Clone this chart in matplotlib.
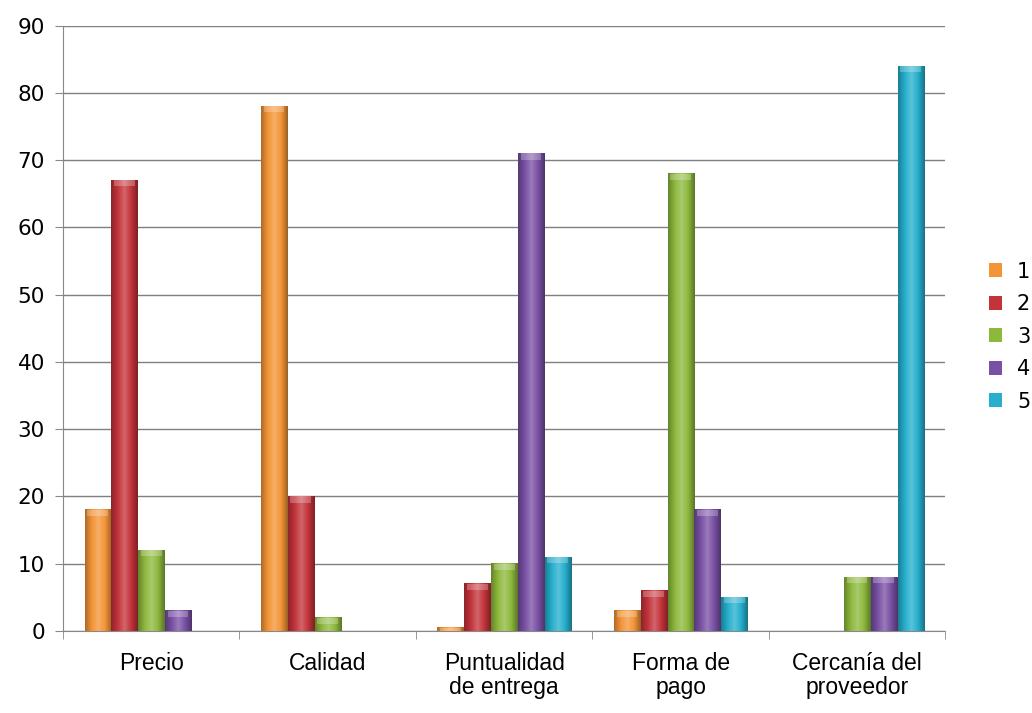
import matplotlib.pyplot as plt
import numpy as np
from matplotlib.colors import LinearSegmentedColormap

# categories and the five rating series
categories = ['Precio', 'Calidad', 'Puntualidad\nde entrega', 'Forma de\npago', 'Cercanía del\nproveedor']
series_names = ['1', '2', '3', '4', '5']
s1 = [18, 78, 0.5, 3, 0]
s2 = [67, 20, 7, 6, 0]
s3 = [12, 2, 10, 68, 8]
s4 = [3, 0, 71, 18, 8]
s5 = [0, 0, 11, 5, 84]
values = [s1, s2, s3, s4, s5]
colors = ['#F39437', '#C3333A', '#8DB83C', '#7850A4', '#25AFCD']

fig = plt.figure(figsize=(10.32, 7.13), dpi=100)
ax = fig.add_axes([0.061, 0.115, 0.855, 0.849])

x = np.arange(len(categories))
width = 0.152
offsets = (np.arange(5) - 2) * width

def shade(c):
    # dark edge -> light middle -> dark edge, a soft cylinder look
    rgb = np.array(plt.matplotlib.colors.to_rgb(c))
    dark = rgb * 0.72
    light = np.clip(rgb + (1 - rgb) * 0.25, 0, 1)
    return LinearSegmentedColormap.from_list('s', [dark, rgb, light, rgb, dark * 0.9])

grad = np.linspace(0, 1, 64).reshape(1, -1)
for vals, col, name, off in zip(values, colors, series_names, offsets):
    bars = ax.bar(x + off, vals, width * 0.97, color=col, label=name, zorder=2)
    cmap = shade(col)
    for b, v in zip(bars, vals):
        if v <= 0:
            continue
        x0 = b.get_x()
        ax.imshow(grad, cmap=cmap, aspect='auto', zorder=3,
                  extent=[x0, x0 + b.get_width(), 0, v])
        # lighter cap on top of each bar
        cap = min(0.9, v)
        ax.bar(x0 + b.get_width() / 2, cap, b.get_width() * 0.8, bottom=v - cap,
               color='white', alpha=0.25, zorder=4, linewidth=0)

ax.set_xlim(-0.5, 4.5)
ax.set_ylim(0, 90)
ax.set_yticks(np.arange(0, 91, 10))
ax.set_yticklabels([str(v) for v in range(0, 91, 10)], fontsize=15.5, family='DejaVu Sans')
ax.set_xticks(x)
ax.set_xticklabels(categories, fontsize=16.5, family='Liberation Sans', linespacing=1.05)
ax.set_xticks(np.arange(-0.5, 5, 1), minor=True)
ax.tick_params(axis='x', which='major', length=0, pad=15)
ax.tick_params(axis='x', which='minor', length=6, color='#888888')
ax.tick_params(axis='y', length=6, color='#888888', pad=7)
ax.grid(axis='y', color='#7f7f7f', linewidth=1, zorder=0)
ax.set_axisbelow(True)
for s in ['top', 'right']:
    ax.spines[s].set_visible(False)
for s in ['left', 'bottom']:
    ax.spines[s].set_color('#888888')

handles, labels = ax.get_legend_handles_labels()
leg = fig.legend(handles, labels, loc='center left', bbox_to_anchor=(0.94, 0.528),
                 frameon=False, fontsize=15, handlelength=0.65, handleheight=0.65,
                 labelspacing=0.6, handletextpad=0.7)
for t in leg.get_texts():
    t.set_family('DejaVu Sans')

plt.savefig('out.png', dpi=100)
